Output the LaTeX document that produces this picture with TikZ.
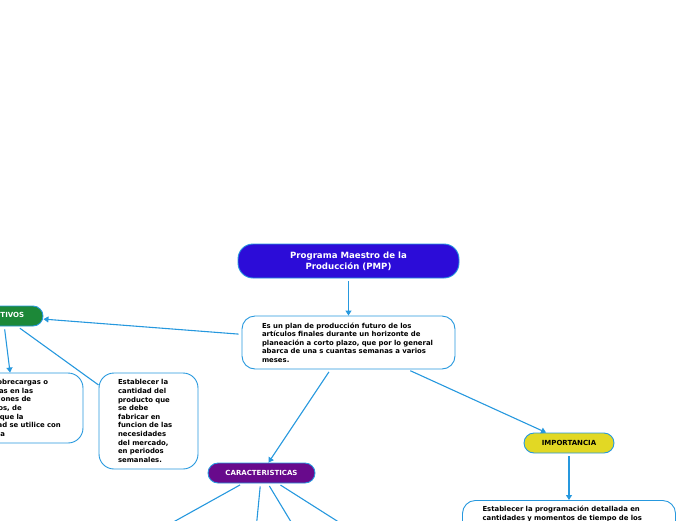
\documentclass[tikz,border=0pt]{standalone}
\usepackage{fontspec}
\setmainfont{DejaVu Sans}
\usepackage{xcolor}
\usetikzlibrary{arrows.meta}
\definecolor{titleblue}{RGB}{44,12,216}
\definecolor{linkblue}{RGB}{38,152,222}
\definecolor{objgreen}{RGB}{28,136,56}
\definecolor{carpurple}{RGB}{104,10,140}
\definecolor{impyellow}{RGB}{226,216,36}

\begin{document}
\begin{tikzpicture}[x=1pt,y=1pt]
\tikzstyle{every node}+=[inner sep=0pt]
\tikzstyle{box}=[draw=linkblue, line width=0.9pt, fill=white, rounded corners=13pt, align=left, font=\bfseries\fontsize{6.9}{8.6}\selectfont]
\tikzstyle{pill}=[draw=linkblue, line width=0.9pt, rounded corners=10pt, minimum height=20pt, font=\bfseries\fontsize{7}{8}\selectfont]
\tikzstyle{link}=[draw=linkblue, line width=1.1pt, shorten <=3pt, -{Triangle[width=6pt,length=5pt]}]
\tikzstyle{line}=[draw=linkblue, line width=1.1pt, shorten <=3pt]
\useasboundingbox (0,0) rectangle (696,-520);
% central topic
\node [pill, fill=titleblue, text=white, rounded corners=15pt, minimum width=221pt, minimum height=34pt, align=center, font=\bfseries\fontsize{8.6}{11}\selectfont] (pmp) at (348.5,-261) {Programa Maestro de la\\Producción (PMP)};
\node [box, minimum width=213pt, minimum height=53pt, text width=173pt] (desc) at (348.5,-342.5) {Es un plan de producción futuro de los\\artículos finales durante un horizonte de\\planeación a corto plazo, que por lo general\\abarca de una s cuantas semanas a varios\\meses.};
% branches
\node [pill, fill=objgreen, text=white, minimum width=80pt] (obj) at (3,-316) {OBJETIVOS};
\node [pill, fill=carpurple, text=white, minimum width=107pt] (car) at (261.5,-473) {CARACTERISTICAS};
\node [pill, fill=impyellow, text=black, minimum width=90pt] (imp) at (569,-443) {IMPORTANCIA};
% leaves
\node [box, rounded corners=15pt, minimum width=137pt, minimum height=70pt, text width=93pt] (evitar) at (14.5,-408) {Evitar sobrecargas o\\subcargas en las\\instalaciones de\\productos, de\\manera que la\\capacidad se utilice con\\eficiencia};
\node [box, rounded corners=15pt, minimum width=99pt, minimum height=96pt, text width=61pt] (cantidad) at (148.5,-421) {Establecer la\\cantidad del\\producto que\\se debe\\fabricar en\\funcion de las\\necesidades\\del mercado,\\en periodos\\semanales.};
\node [box, anchor=north, inner ysep=5.8pt, minimum width=213pt, text width=173pt, text depth=40pt] (prog) at (569,-500) {Establecer la programación detallada en\\cantidades y momentos de tiempo de los};
% ends of the branches below the picture
\coordinate (c1) at (141,-540);
\coordinate (c2) at (255,-540);
\coordinate (c3) at (302,-540);
\coordinate (c4) at (367,-540);
% connectors
\draw [link] (pmp) -- (desc);
\draw [link] (desc) -- (obj);
\draw [link] (desc) -- (car);
\draw [link] (desc) -- (imp);
\draw [link] (obj) -- (evitar);
\draw [line] (obj) -- (cantidad);
\draw [link] (imp) -- (prog);
\draw [line] (car) -- (c1);
\draw [line] (car) -- (c2);
\draw [line] (car) -- (c3);
\draw [line] (car) -- (c4);
\end{tikzpicture}
\end{document}
